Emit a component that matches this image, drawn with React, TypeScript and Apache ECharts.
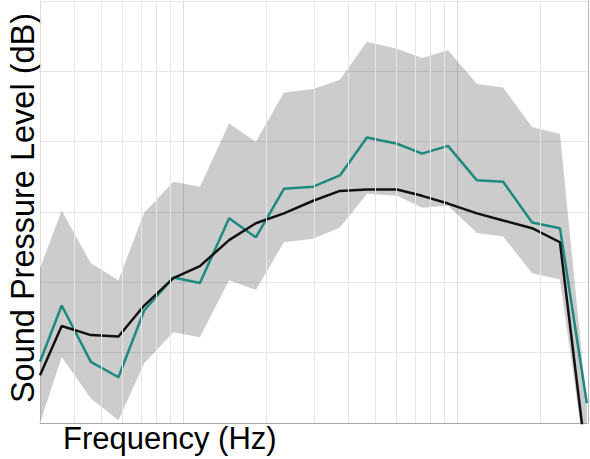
import React, { useEffect, useRef } from "react";
import * as echarts from "echarts";

// Frequencies (Hz) of the data points
const frequencies = [30, 36, 46, 58, 72, 92, 115, 147, 184, 233, 298, 373, 468, 603, 744, 925, 1180, 1470, 1875, 2370, 2970];
// Upper and lower edge of the grey range band
const bandUpper = [22.0, 30.2, 22.7, 20.3, 29.9, 34.3, 33.6, 42.6, 40.0, 47.0, 47.5, 48.8, 54.2, 53.2, 51.9, 53.0, 48.2, 47.7, 42.1, 41.1, 2.6];
const bandLower = [0.0, 9.4, 3.5, 0.4, 8.5, 12.9, 12.2, 20.3, 18.9, 25.7, 26.2, 27.8, 32.6, 32.3, 30.6, 30.9, 27.0, 26.5, 21.3, 20.4, -6.7];
// Teal series
const tealSeries = [8.7, 16.7, 8.7, 6.5, 16.0, 20.7, 19.9, 29.1, 26.4, 33.3, 33.6, 35.2, 40.6, 39.7, 38.3, 39.4, 34.5, 34.3, 28.5, 27.7, 2.8];
// Black series
const blackSeries = [6.8, 13.8, 12.5, 12.3, 16.7, 20.6, 22.3, 26.0, 28.4, 29.8, 31.6, 33.0, 33.2, 33.2, 32.3, 31.2, 29.8, 28.8, 27.7, 25.7, -5.8];
// Minor vertical grid lines on the log axis
const minorGridFreqs = [40, 50, 60, 70, 80, 90, 200, 300, 400, 500, 600, 700, 800, 900, 2000];

const xMin = 30;
const xMax = 3000;
const yMin = 0;
const yMax = 60;

const FONT = "'Liberation Sans', Arial, sans-serif";

export default function App() {
  const ref = useRef<HTMLDivElement>(null);

  useEffect(() => {
    if (!ref.current) return;
    const chart = echarts.init(ref.current, undefined, { renderer: "svg" });
    const pairs = (ys: number[]) => frequencies.map((f, i) => [f, ys[i]]);
    const bandData = frequencies.map((f, i) => [f, bandLower[i], bandUpper[i]]);

    chart.setOption({
      animation: false,
      backgroundColor: "#ffffff",
      grid: { left: 40, right: 2, top: 1, bottom: 36, containLabel: false },
      xAxis: [
        {
          type: "log",
          logBase: 10,
          min: xMin,
          max: xMax,
          axisLine: { show: false },
          axisTick: { show: false },
          axisLabel: { show: false },
          splitLine: { show: true, lineStyle: { color: "#dcdcdc", width: 1 } },
        },
        {
          type: "log",
          logBase: 10,
          min: xMin,
          max: xMax,
          position: "top",
          axisLine: { show: true, lineStyle: { color: "#a8a8a8", width: 1 } },
          axisTick: { show: false },
          axisLabel: { show: false },
          splitLine: { show: false },
        },
      ],
      yAxis: [
        {
          type: "value",
          min: yMin,
          max: yMax,
          interval: 10,
          axisLine: { show: false },
          axisTick: { show: false },
          axisLabel: { show: false },
          splitLine: { show: true, lineStyle: { color: "#e6e6e6", width: 1 } },
        },
        {
          type: "value",
          min: yMin,
          max: yMax,
          interval: 10,
          position: "right",
          axisLine: { show: true, lineStyle: { color: "#b8b8b8", width: 1 } },
          axisTick: { show: false },
          axisLabel: { show: false },
          splitLine: { show: false },
        },
      ],
      series: [
        {
          type: "line",
          name: "gridMinor",
          data: [],
          silent: true,
          z: 1,
          markLine: {
            silent: true,
            symbol: ["none", "none"],
            label: { show: false },
            lineStyle: { color: "#e6e6e6", width: 1, type: "solid" },
            data: minorGridFreqs.map((f) => ({ xAxis: f })),
          },
        },
        {
          type: "custom",
          name: "band",
          data: bandData,
          clip: true,
          silent: true,
          z: 2,
          encode: { x: 0, y: [1, 2] },
          renderItem: (params: any, api: any) => {
            if (params.dataIndex !== 0) return null;
            const upper = bandData.map((d) => api.coord([d[0], d[2]]));
            const lower = bandData.map((d) => api.coord([d[0], d[1]])).reverse();
            return {
              type: "polygon",
              shape: { points: upper.concat(lower) },
              style: { fill: "rgba(0,0,0,0.2)", stroke: "none" },
            };
          },
        },
        {
          type: "line",
          name: "teal",
          data: pairs(tealSeries),
          symbol: "none",
          z: 3,
          lineStyle: { color: "#1e8a7f", width: 2.5 },
        },
        {
          type: "line",
          name: "black",
          data: pairs(blackSeries),
          symbol: "none",
          z: 4,
          lineStyle: { color: "#111111", width: 2.5 },
        },
      ],
      graphic: [
        {
          type: "text",
          x: 63,
          y: 438,
          style: {
            text: "Frequency (Hz)",
            font: `31px ${FONT}`,
            fill: "#000",
            textAlign: "left",
            textVerticalAlign: "middle",
          },
        },
        {
          type: "text",
          x: 23,
          y: 208,
          rotation: Math.PI / 2,
          style: {
            text: "Sound Pressure Level (dB)",
            font: `32.5px ${FONT}`,
            fill: "#000",
            textAlign: "center",
            textVerticalAlign: "middle",
          },
        },
      ],
    });

    return () => chart.dispose();
  }, []);

  return <div ref={ref} style={{ width: 590, height: 459, position: "absolute", left: 0, top: 0 }} />;
}
